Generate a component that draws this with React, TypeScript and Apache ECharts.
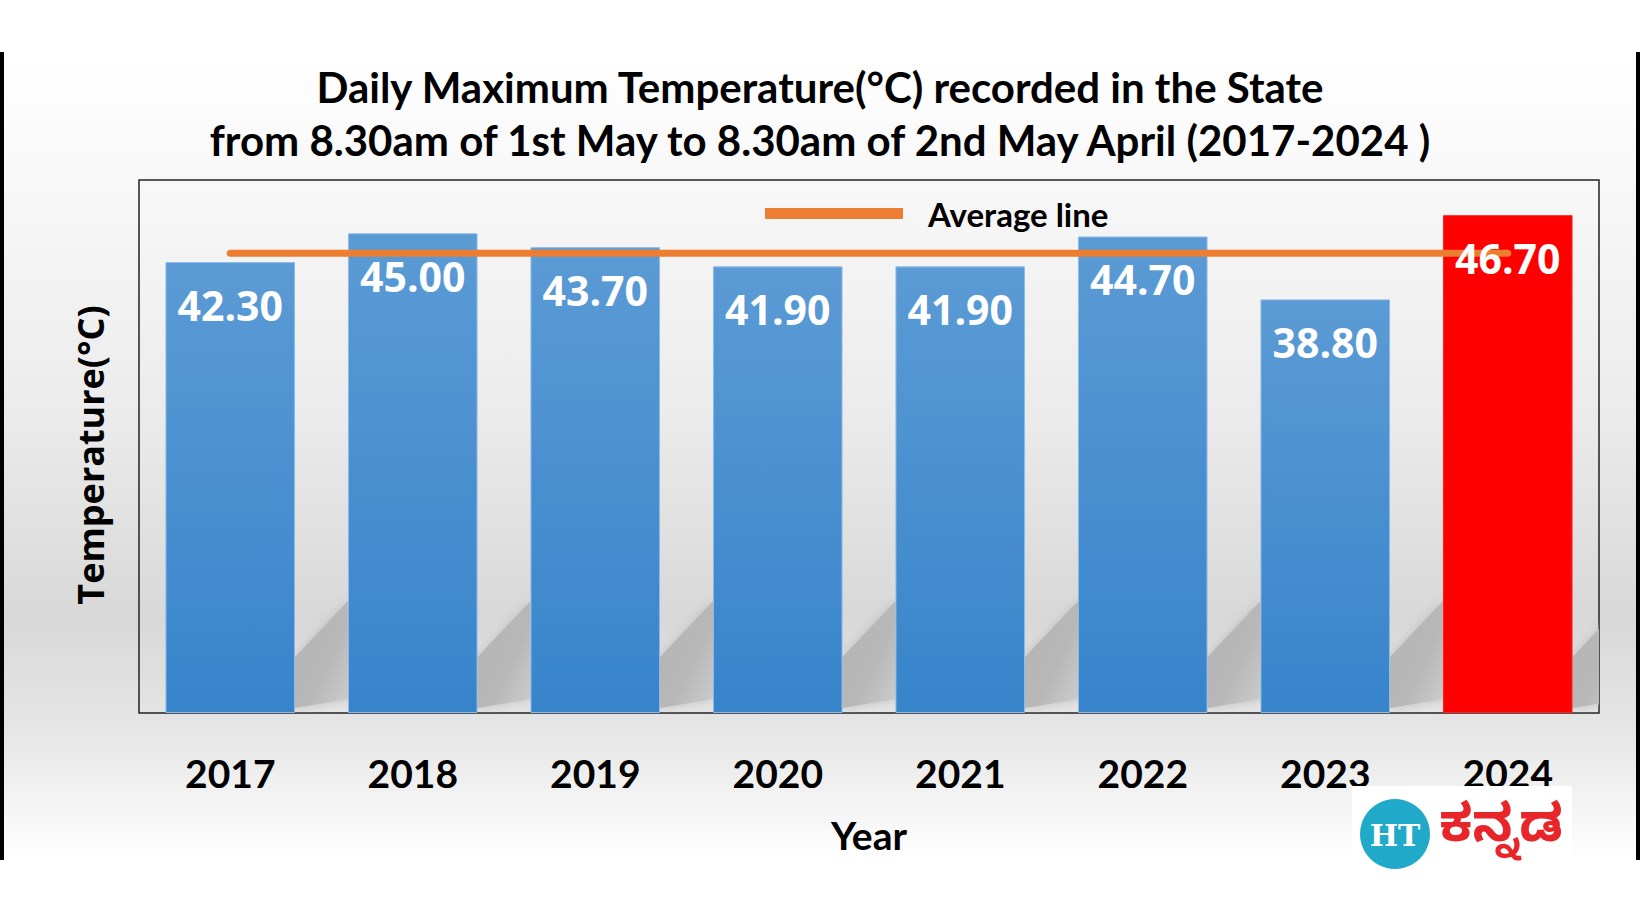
import React, { useEffect, useRef } from "react";
import * as echarts from "echarts";

const years = ["2017", "2018", "2019", "2020", "2021", "2022", "2023", "2024"];
const maxTemps = [42.3, 45.0, 43.7, 41.9, 41.9, 44.7, 38.8, 46.7];
const averageTemp = 43.13;
const highlightYear = "2024";
const titleLines = [
  "Daily Maximum Temperature(°C) recorded in the State",
  "from 8.30am of 1st May to 8.30am of 2nd May April (2017-2024 )",
];
const yAxisTitle = "Temperature(°C)";
const xAxisTitle = "Year";
const legendLabel = "Average line";
const brandMark = "HT";
const brandName = "ಕನ್ನಡ";

export default function App() {
  const ref = useRef<HTMLDivElement>(null);

  useEffect(() => {
    if (!ref.current) return;
    const chart = echarts.init(ref.current, null, { renderer: "svg" });

    const blueGrad = new echarts.graphic.LinearGradient(0, 0, 0, 1, [
      { offset: 0, color: "#5b9bd5" },
      { offset: 1, color: "#3784cb" },
    ]);

    const barData = years.map((y, i) => ({
      value: maxTemps[i],
      itemStyle: {
        color: y === highlightYear ? "#ff0000" : blueGrad,
        borderColor: y === highlightYear ? "#ff2020" : "#8fbbe6",
        borderWidth: 1,
      },
    }));

    const option: any = {
      animation: false,
      backgroundColor: "#ffffff",
      title: {
        text: titleLines.join("\n"),
        left: "center",
        top: 55,
        textStyle: {
          fontFamily: "Lato",
          fontWeight: "bold",
          fontSize: 42,
          lineHeight: 53,
          color: "#000000",
        },
      },
      legend: {
        data: [{ name: legendLabel, icon: "rect" }],
        left: 760,
        top: 192,
        itemWidth: 138,
        itemHeight: 11,
        selectedMode: false,
        textStyle: {
          fontFamily: "Lato",
          fontWeight: "bold",
          fontSize: 33,
          color: "#000000",
          padding: [0, 0, 4, 20],
        },
      },
      grid: {
        left: 139,
        right: 41,
        top: 180,
        bottom: 211,
        show: true,
        borderColor: "#222222",
        borderWidth: 1.5,
        backgroundColor: "transparent",
      },
      xAxis: {
        type: "category",
        data: years,
        axisLine: { show: false },
        axisTick: { show: false },
        axisLabel: {
          fontFamily: "Lato",
          fontWeight: "bold",
          fontSize: 39,
          color: "#000000",
          margin: 40,
        },
        name: xAxisTitle,
        nameLocation: "middle",
        nameGap: 102,
        nameTextStyle: {
          fontFamily: "Lato",
          fontWeight: "bold",
          fontSize: 39,
          color: "#000000",
        },
      },
      yAxis: {
        type: "value",
        min: 0,
        max: 50,
        axisLine: { show: false },
        axisTick: { show: false },
        axisLabel: { show: false },
        splitLine: { show: false },
      },
      graphic: [
        {
          type: "rect",
          z: -100,
          silent: true,
          shape: { x: 4, y: 52, width: 1632, height: 808 },
          style: {
            fill: new echarts.graphic.LinearGradient(0, 0, 0, 1, [
              { offset: 0, color: "#ffffff" },
              { offset: 0.2, color: "#f6f6f6" },
              { offset: 0.45, color: "#ebebeb" },
              { offset: 0.7, color: "#d8d8d8" },
              { offset: 0.84, color: "#e6e6e6" },
              { offset: 1, color: "#ffffff" },
            ]),
          },
        },
        {
          type: "rect",
          z: 100,
          silent: true,
          shape: { x: 0, y: 52, width: 4, height: 808 },
          style: { fill: "#000000" },
        },
        {
          type: "rect",
          z: 100,
          silent: true,
          shape: { x: 1636, y: 52, width: 4, height: 808 },
          style: { fill: "#000000" },
        },
        {
          type: "text",
          z: 100,
          x: 90,
          y: 455,
          rotation: Math.PI / 2,
          style: {
            text: yAxisTitle,
            fontFamily: "Open Sans",
            fontWeight: "bold",
            fontSize: 36,
            fill: "#000000",
            align: "center",
            verticalAlign: "middle",
          },
        },
        {
          type: "group",
          z: 100,
          children: [
            {
              type: "rect",
              z: 100,
              shape: { x: 1352, y: 786, width: 220, height: 84 },
              style: { fill: "#ffffff" },
            },
            {
              type: "circle",
              z: 101,
              shape: { cx: 1395, cy: 834, r: 35 },
              style: { fill: "#20a9c9" },
            },
            {
              type: "text",
              z: 102,
              x: 1395,
              y: 835,
              style: {
                text: brandMark,
                fontFamily: "DejaVu Serif",
                fontWeight: "bold",
                fontSize: 30,
                fill: "#ffffff",
                align: "center",
                verticalAlign: "middle",
              },
            },
            {
              type: "text",
              z: 102,
              x: 1501,
              y: 834,
              style: {
                text: brandName,
                fontFamily: "Noto Sans Kannada, Noto Sans, sans-serif",
                fontWeight: "bold",
                fontSize: 52,
                fill: "#e8262a",
                align: "center",
                verticalAlign: "middle",
              },
            },
          ],
        },
      ],
      series: [
        {
          type: "custom",
          name: "shadow",
          z: 1,
          clip: true,
          silent: true,
          data: years.map((_, i) => [i, 0]),
          encode: { x: 0, y: 1 },
          renderItem: (params: any, api: any) => {
            const base = api.coord([api.value(0), 0]);
            const band = api.size([1, 0])[0];
            const xL = base[0] + band * 0.355;
            const xR = xL + band * 0.29;
            const yb = base[1];
            return {
              type: "polygon",
              shape: {
                points: [
                  [xL, yb - 56],
                  [xR, yb - 112],
                  [xR, yb - 14],
                  [xL, yb - 5],
                ],
              },
              style: {
                fill: new echarts.graphic.LinearGradient(0, 0, 1, 1, [
                  { offset: 0, color: "#b4b4b4" },
                  { offset: 0.6, color: "#b8b8b8" },
                  { offset: 1, color: "#cdcdcd" },
                ]),
                shadowBlur: 10,
                shadowColor: "#c0c0c0",
              },
            };
          },
        },
        {
          type: "bar",
          name: "Temperature",
          z: 2,
          barCategoryGap: "29%",
          data: barData,
        },
        {
          type: "line",
          name: legendLabel,
          z: 3,
          symbol: "none",
          silent: true,
          data: [
            [years[0], averageTemp],
            [years[years.length - 1], averageTemp],
          ],
          itemStyle: { color: "#ed7d31" },
          lineStyle: { color: "#ed7d31", width: 7, cap: "round" },
        },
        {
          type: "bar",
          name: "labels",
          z: 4,
          barCategoryGap: "29%",
          barGap: "-100%",
          silent: true,
          data: maxTemps,
          itemStyle: { color: "rgba(0,0,0,0)" },
          label: {
            show: true,
            position: "insideTop",
            distance: 22,
            formatter: (p: any) => Number(p.value).toFixed(2),
            fontFamily: "Open Sans",
            fontWeight: "bold",
            fontSize: 41,
            color: "#ffffff",
          },
        },
      ],
    };

    chart.setOption(option);
    return () => chart.dispose();
  }, []);

  return (
    <div
      ref={ref}
      style={{ position: "absolute", left: 0, top: 0, width: 1640, height: 924 }}
    />
  );
}
